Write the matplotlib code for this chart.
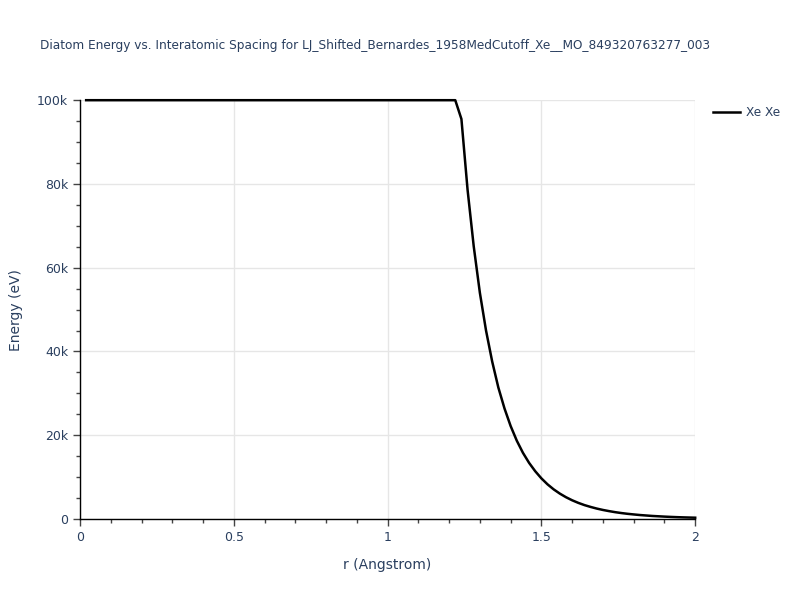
import matplotlib
matplotlib.use("Agg")
import matplotlib.pyplot as plt
from matplotlib.ticker import MultipleLocator, FuncFormatter

# values
r = [0.02, 1.22, 1.24, 1.26, 1.28, 1.30, 1.32, 1.34, 1.36, 1.38, 1.40,
     1.42, 1.44, 1.46, 1.48, 1.50, 1.52, 1.54, 1.56, 1.58, 1.60, 1.62,
     1.64, 1.66, 1.68, 1.70, 1.72, 1.74, 1.76, 1.78, 1.80, 1.82, 1.84,
     1.86, 1.88, 1.90, 1.92, 1.94, 1.96, 1.98, 2.00]
energy = [100000, 100000, 95500, 78600, 65100, 54000, 45000, 37600, 31400,
          26400, 22200, 18700, 15800, 13400, 11400, 9700, 8270, 7070, 6060,
          5200, 4470, 3850, 3320, 2880, 2490, 2160, 1880, 1630, 1420, 1240,
          1090, 950, 840, 730, 650, 570, 500, 440, 390, 350, 310]
series_name = "Xe Xe"
title = "Diatom Energy vs. Interatomic Spacing for LJ_Shifted_Bernardes_1958MedCutoff_Xe__MO_849320763277_003"

text_col = "#2a3f5f"
grid_col = "#e6e6e6"

plt.rcParams['font.family'] = ['DejaVu Sans']

fig = plt.figure(figsize=(8, 6), dpi=100)
ax = fig.add_axes([0.1, 0.135, 0.769, 0.698])

ax.plot(r, energy, color="black", lw=1.8, label=series_name, clip_on=False, zorder=3)

ax.set_xlim(0, 2)
ax.set_ylim(0, 100000)

ax.xaxis.set_major_locator(MultipleLocator(0.5))
ax.xaxis.set_minor_locator(MultipleLocator(0.1))
ax.yaxis.set_major_locator(MultipleLocator(20000))
ax.yaxis.set_minor_locator(MultipleLocator(5000))
ax.xaxis.set_major_formatter(FuncFormatter(lambda v, p: f"{v:g}"))
ax.yaxis.set_major_formatter(FuncFormatter(lambda v, p: "0" if v == 0 else f"{v/1000:g}k"))

ax.grid(True, which="major", color=grid_col, lw=1)
ax.set_axisbelow(True)

for side in ["top", "right"]:
    ax.spines[side].set_visible(False)
for side in ["left", "bottom"]:
    ax.spines[side].set_color("black")
    ax.spines[side].set_linewidth(1)

ax.tick_params(which="major", direction="out", length=5, color="#444444",
               labelcolor=text_col, labelsize=9, width=1)
ax.tick_params(which="minor", direction="out", length=3, color="#444444", width=1)

ax.set_xlabel("r (Angstrom)", color=text_col, fontsize=10, labelpad=10)
ax.set_ylabel("Energy (eV)", color=text_col, fontsize=10, labelpad=10)

fig.text(0.05, 0.925, title, color=text_col, fontsize=8.7, ha="left", va="center")

leg = ax.legend(loc="upper left", bbox_to_anchor=(1.012, 1.012), frameon=False,
                fontsize=8.7, handlelength=2.2, handletextpad=0.5)
for t in leg.get_texts():
    t.set_color(text_col)

fig.savefig("out.png", dpi=100)
